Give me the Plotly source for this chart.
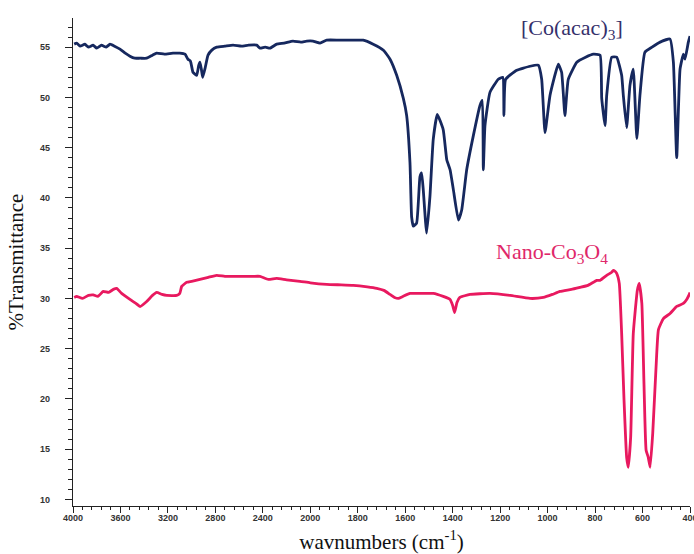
import numpy as np
import plotly.graph_objects as go

# ---- data (wavenumber in cm-1, %T) ----
co_acac_wn = [3990, 3969, 3940, 3900, 3870, 3831, 3800, 3760, 3720, 3688, 3650, 3604, 3560, 3520, 3480,
              3435, 3379, 3330, 3295, 3230, 3157, 3100, 3056, 3031, 3010, 2989, 2970, 2957, 2940, 2930,
              2918, 2907, 2885, 2862, 2830, 2789, 2720, 2651, 2580, 2520, 2452, 2424, 2380, 2340, 2283,
              2220, 2146, 2080, 2030, 1989, 1959, 1931, 1880, 1833, 1800, 1777, 1735, 1692, 1664, 1636,
              1608, 1594, 1580, 1573, 1566, 1552, 1538, 1531, 1524, 1510, 1496, 1482, 1465, 1440, 1425,
              1411, 1397, 1376, 1362, 1341, 1313, 1285, 1275, 1271, 1264, 1243, 1208, 1189, 1184, 1177,
              1130, 1074, 1039, 1025, 1011, 990, 955, 941, 927, 913, 877, 840, 807, 779, 772, 758, 751,
              730, 709, 688, 681, 667, 653, 639, 624, 611, 590, 560, 526, 484, 470, 456, 442, 428, 421,
              407, 400]
co_acac_t = [55.3, 55.4, 55.1, 55.3, 55.0, 55.2, 54.9, 55.2, 55.0, 55.3, 55.1, 54.8, 54.4, 54.1, 53.9,
             53.9, 53.9, 54.2, 54.4, 54.3, 54.4, 54.4, 54.3, 53.8, 53.6, 52.5, 52.3, 52.2, 53.2, 53.5,
             52.8, 52.0, 53.0, 54.2, 54.7, 55.0, 55.1, 55.2, 55.1, 55.2, 55.2, 54.9, 55.0, 54.9, 55.3,
             55.4, 55.6, 55.5, 55.6, 55.6, 55.4, 55.7, 55.7, 55.7, 55.7, 55.7, 55.3, 54.7, 53.8, 52.2,
             49.9, 48.2, 43.5, 38.1, 37.2, 37.5, 42.1, 42.5, 40.8, 36.5, 40.1, 45.8, 48.3, 46.8, 43.8,
             42.8, 40.8, 37.8, 38.8, 42.8, 46.2, 49.2, 49.7, 42.8, 47.2, 50.5, 51.8, 52.0, 48.2, 51.8,
             52.7, 53.1, 53.2, 51.8, 46.5, 50.2, 53.3, 52.5, 48.2, 51.8, 53.5, 54.0, 54.3, 54.2, 49.9, 47.2, 50.2,
             54.0, 54.0, 52.2, 50.2, 47.0, 51.2, 52.8, 45.9, 50.2, 54.5, 55.0, 55.5, 55.8, 53.5, 44.0, 52.8, 54.3, 53.8,
             55.5, 56.1]

nano_wn = [3990, 3969, 3920, 3870, 3829, 3790, 3745, 3700, 3660, 3632, 3590, 3520, 3470, 3435, 3379,
           3330, 3295, 3250, 3210, 3126, 3100, 3084, 3042, 3000, 2930, 2860, 2789, 2720, 2649, 2560,
           2480, 2424, 2354, 2283, 2200, 2087, 2000, 1931, 1870, 1819, 1760, 1720, 1690, 1664, 1645,
           1629, 1610, 1580, 1530, 1482, 1440, 1411, 1400, 1392, 1382, 1370, 1327, 1243, 1158, 1074,
           1018, 980, 948, 900, 864, 830, 793, 779, 751, 730, 723, 716, 709, 698, 688, 678, 667, 660,
           650, 639, 622, 614, 603, 594, 585, 576, 568, 557, 543, 533, 512, 484, 456, 428, 414, 405, 400]
nano_t = [30.1, 30.2, 30.0, 30.3, 30.35, 30.2, 30.7, 30.6, 30.9, 31.0, 30.5, 29.9, 29.5, 29.2, 29.7,
          30.3, 30.6, 30.4, 30.3, 30.3, 30.5, 31.2, 31.6, 31.7, 31.9, 32.1, 32.3, 32.2, 32.2, 32.2,
          32.2, 32.2, 31.9, 32.0, 31.85, 31.7, 31.55, 31.4, 31.35, 31.3, 31.15, 31.0, 30.8, 30.4, 30.1,
          30.0, 30.2, 30.5, 30.5, 30.5, 30.2, 29.9, 29.3, 28.6, 29.6, 30.1, 30.4, 30.5, 30.3, 30.0,
          30.1, 30.4, 30.7, 30.9, 31.1, 31.3, 31.8, 31.8, 32.3, 32.6, 32.8, 32.7, 32.5, 31.5, 26.5, 19.9, 14.2, 13.2,
          16.2, 26.5, 30.8, 31.5, 29.5, 21.6, 14.9, 14.2, 13.2, 16.6, 23.2, 26.9, 28.0, 28.5, 29.2, 29.5, 29.9, 30.3, 30.6]

x_tick_labels = [4000, 3600, 3200, 2800, 2400, 2000, 1800, 1600, 1400, 1200, 1000, 800, 600, 400]
y_tick_labels = [10, 15, 20, 25, 30, 35, 40, 45, 50, 55]


def to_axis(w):
    """Scale change at 2000 cm-1: above it the axis is compressed by a factor of 2."""
    w = np.asarray(w, dtype=float)
    return np.where(w > 2000, 2000 + (w - 2000) / 2.0, w)


NAVY = "#16285e"
PINK = "#e8195f"
SERIF = "Liberation Serif"

fig = go.Figure()
fig.add_trace(go.Scatter(x=to_axis(co_acac_wn), y=co_acac_t, mode="lines",
                         line=dict(color=NAVY, width=2.8, shape="spline", smoothing=0.4),
                         showlegend=False))
fig.add_trace(go.Scatter(x=to_axis(nano_wn), y=nano_t, mode="lines",
                         line=dict(color=PINK, width=2.8, shape="spline", smoothing=0.4),
                         showlegend=False))

tickfont = dict(family="Liberation Sans", size=9, color="#333333", weight="bold")

fig.update_layout(
    width=694, height=554,
    margin=dict(l=73, r=4, t=18, b=48),
    paper_bgcolor="white", plot_bgcolor="white",
    xaxis=dict(
        range=[3000, 400], showline=True, linecolor="#222222", linewidth=1.2,
        showgrid=False, zeroline=False, automargin=False,
        ticks="outside", ticklen=6, tickwidth=1, tickcolor="#222222",
        tickmode="array", tickvals=to_axis(x_tick_labels).tolist(),
        ticktext=[str(v) for v in x_tick_labels], tickfont=tickfont,
        ticklabeloverflow="allow", ticklabelstandoff=-3,
        minor=dict(tickmode="linear", tick0=400, dtick=40, ticks="outside",
                   ticklen=3, tickwidth=1, tickcolor="#222222", showgrid=False),
        title=dict(text="wavnumbers (cm<sup>-1</sup>)", font=dict(family=SERIF, size=21, color="#111111"),
                   standoff=12),
    ),
    yaxis=dict(
        range=[9.35, 57.9], showline=True, linecolor="#222222", linewidth=1.2,
        showgrid=False, zeroline=False, automargin=False,
        ticks="outside", ticklen=7, tickwidth=1, tickcolor="#222222",
        tickmode="array", tickvals=y_tick_labels, ticktext=[str(v) for v in y_tick_labels],
        tickfont=tickfont, ticklabelstandoff=13,
        minor=dict(tickmode="linear", tick0=10, dtick=1, ticks="outside",
                   ticklen=4, tickwidth=1, tickcolor="#222222", showgrid=False),
        title=dict(text="%Transmittance", font=dict(family=SERIF, size=21, color="#111111"),
                   standoff=10),
    ),
    annotations=[
        dict(text="[Co(acac)<sub>3</sub>]", xref="paper", yref="paper", x=0.809, y=0.977,
             xanchor="center", yanchor="middle",
             showarrow=False, font=dict(family=SERIF, size=22, color="#35306b")),
        dict(text="Nano-Co<sub>3</sub>O<sub>4</sub>", xref="paper", yref="paper", x=0.776, y=0.518,
             xanchor="center", yanchor="middle",
             showarrow=False, font=dict(family=SERIF, size=22, color="#e0286a")),
    ],
)

fig.write_html("out.html")
